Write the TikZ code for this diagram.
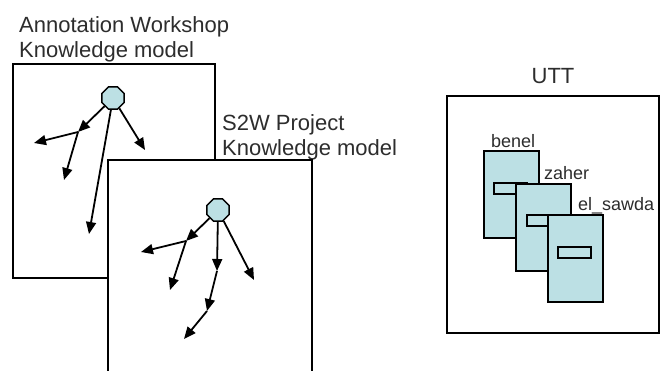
\documentclass[tikz,border=0pt]{standalone}
\usepackage{fontspec}
\setmainfont{Liberation Sans}
\usetikzlibrary{shapes.geometric,arrows.meta}
\definecolor{cardfill}{RGB}{188,224,228}
\definecolor{ink}{RGB}{45,45,45}
\begin{document}
\begin{tikzpicture}[x=1pt,y=-1pt,
  frame/.style={draw=black,line width=1.9pt,fill=white},
  hub/.style={draw=black,line width=1.5pt,fill=cardfill,regular polygon,regular polygon sides=8,minimum size=24pt,inner sep=0pt},
  arr/.style={draw=black,line width=1.8pt,-{Triangle[length=12pt,width=10pt]}},
  title/.style={anchor=base west,inner sep=0pt,font=\fontsize{22}{25}\selectfont,text=ink},
  card/.style={draw=black,line width=1.7pt,fill=cardfill,anchor=north west,minimum width=55pt,minimum height=87pt,inner sep=0pt},
  slot/.style={draw=black,line width=1.7pt,fill=cardfill,anchor=north west,minimum width=33pt,minimum height=11pt,inner sep=0pt},
  cardlabel/.style={anchor=base west,inner sep=0pt,font=\fontsize{18}{20}\selectfont,text=ink}]
\useasboundingbox[fill=white] (0,0) rectangle (661,370);

% titles
\node[title] (t1) at (19,32) {Annotation Workshop};
\node[title] (t2) at (19,57) {Knowledge model};
\node[title] (t3) at (222,130) {S2W Project};
\node[title] (t4) at (222,155) {Knowledge model};

% first knowledge model
\draw[frame] (13,64) rectangle (215,278);
\node[hub] (o1) at (113,98) {};
\coordinate (j1) at (78,132);
\coordinate (a1) at (34,143);
\coordinate (a2) at (64,180);
\coordinate (a3) at (89,234);
\coordinate (a4) at (145,150);
\draw[arr] (o1) -- (j1);
\draw[arr] (j1) -- (a1);
\draw[arr] (j1) -- (a2);
\draw[arr] (o1) -- (a3);
\draw[arr] (o1) -- (a4);

% second knowledge model
\path[frame] (108,372) -- (108,160) -- (312,160) -- (312,372);
\node[hub] (o2) at (218,210) {};
\coordinate (j2) at (186,241);
\coordinate (b1) at (141,252);
\coordinate (b2) at (170,290);
\coordinate (j3) at (217,271);
\coordinate (j4) at (207,311);
\coordinate (b3) at (184,339);
\coordinate (b4) at (254,280);
\draw[arr] (o2) -- (j2);
\draw[arr] (j2) -- (b1);
\draw[arr] (j2) -- (b2);
\draw[arr] (o2) -- (j3);
\draw[arr] (j3) -- (j4);
\draw[arr] (j4) -- (b3);
\draw[arr] (o2) -- (b4);

% UTT
\node[title,anchor=base] (utt) at (553,83) {UTT};
\draw[frame] (447,96) rectangle (659,333);
\node[cardlabel] (lb1) at (491,147) {benel};
\node[card] (c1) at (483,150) {};
\node[slot] (s1) at (493,182) {};
\node[cardlabel] (lb2) at (544,179) {zaher};
\node[card] (c2) at (515,183) {};
\node[slot] (s2) at (526,214) {};
\node[cardlabel] (lb3) at (578,210) {el\_sawda};
\node[card] (c3) at (547,214) {};
\node[slot] (s3) at (557,246) {};
\end{tikzpicture}
\end{document}
